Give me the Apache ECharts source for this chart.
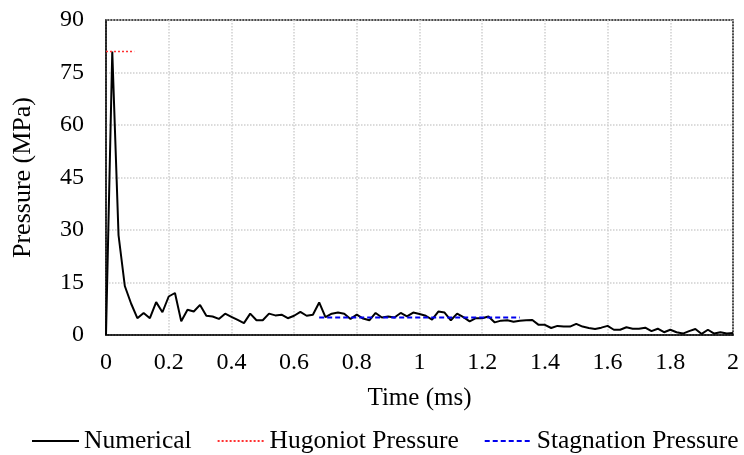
<!DOCTYPE html>
<html>
<head>
<meta charset="utf-8">
<script src="https://cdn.jsdelivr.net/npm/echarts@6/dist/echarts.min.js"></script>
<style>
    html, body { margin: 0; padding: 0; background: #fff; }
    #chart { width: 744px; height: 455px; }
</style>
</head>
<body>
<div id="chart"></div>
<script>
// time (ms)
var timeMs = [
    0, 0.02, 0.04, 0.06, 0.08, 0.1, 0.12, 0.14, 0.16, 0.18,
    0.2, 0.22, 0.24, 0.26, 0.28, 0.3, 0.32, 0.34, 0.36, 0.38,
    0.4, 0.42, 0.44, 0.46, 0.48, 0.5, 0.52, 0.54, 0.56, 0.58,
    0.6, 0.62, 0.64, 0.66, 0.68, 0.7, 0.72, 0.74, 0.76, 0.78,
    0.8, 0.82, 0.84, 0.86, 0.88, 0.9, 0.92, 0.94, 0.96, 0.98,
    1, 1.02, 1.04, 1.06, 1.08, 1.1, 1.12, 1.14, 1.16, 1.18,
    1.2, 1.22, 1.24, 1.26, 1.28, 1.3, 1.32, 1.34, 1.36, 1.38,
    1.4, 1.42, 1.44, 1.46, 1.48, 1.5, 1.52, 1.54, 1.56, 1.58,
    1.6, 1.62, 1.64, 1.66, 1.68, 1.7, 1.72, 1.74, 1.76, 1.78,
    1.8, 1.82, 1.84, 1.86, 1.88, 1.9, 1.92, 1.94, 1.96, 1.98,
    2
];
// numerical pressure (MPa)
var numerical = [
    0, 81, 28.5, 14, 9, 4.8, 6.3, 4.8, 9.4, 6.5,
    11, 12, 3.9, 7.2, 6.7, 8.6, 5.5, 5.3, 4.6, 6.1,
    5.2, 4.3, 3.4, 6.1, 4.2, 4.2, 6.1, 5.6, 5.8, 4.8,
    5.5, 6.6, 5.5, 5.8, 9.3, 5.1, 6.1, 6.4, 6.1, 4.6,
    5.8, 4.7, 4.2, 6.3, 5, 5.3, 5, 6.3, 5.3, 6.4,
    6, 5.5, 4.4, 6.7, 6.4, 4.2, 6.1, 5.1, 3.9, 4.8,
    4.8, 5.3, 3.6, 4.1, 4.2, 3.8, 4.1, 4.2, 4.3, 2.9,
    2.9, 2, 2.6, 2.4, 2.4, 3.2, 2.4, 2, 1.7, 2.1,
    2.6, 1.5, 1.5, 2.2, 1.8, 1.8, 2.1, 1.1, 1.8, 0.8,
    1.5, 0.8, 0.4, 1.1, 1.7, 0.3, 1.5, 0.4, 0.8, 0.4,
    0.6
];
// reference levels
var hugoniotTime = [0, 0.09];
var hugoniotPressure = [81, 81];
var stagnationTime = [0.68, 1.32];
var stagnationPressure = [5, 5];

function pairs(xs, ys) {
    var out = [];
    for (var i = 0; i < xs.length; i++) {
        out.push([xs[i], ys[i]]);
    }
    return out;
}

var font = "'Liberation Serif', 'Times New Roman', serif";
var chart = echarts.init(document.getElementById("chart"));
var option = {
    animation: false,
    textStyle: {fontFamily: font, color: "#000"},
    grid: {
        left: 106, right: 11, top: 20, bottom: 120,
        show: true, borderColor: "#111", borderWidth: 1.5
    },
    legend: {
        left: 31, top: 428, padding: 0,
        itemWidth: 47, itemHeight: 12, itemGap: 25,
        itemStyle: {opacity: 0},
        textStyle: {fontFamily: font, fontSize: 25.5, color: "#000"},
        data: ["Numerical", "Hugoniot Pressure", "Stagnation Pressure"]
    },
    xAxis: {
        type: "value", min: 0, max: 2, interval: 0.2,
        name: "Time (ms)", nameLocation: "middle", nameGap: 51,
        nameTextStyle: {fontFamily: font, fontSize: 25, color: "#000"},
        axisLine: {show: true, lineStyle: {color: "#111", width: 1.5}},
        axisTick: {show: false},
        axisLabel: {fontFamily: font, fontSize: 24, color: "#000", margin: 16},
        splitLine: {show: true, lineStyle: {type: "dotted", color: "#cfcfcf", width: 1.5}}
    },
    yAxis: {
        type: "value", min: 0, max: 90, interval: 15,
        name: "Pressure (MPa)", nameLocation: "middle", nameGap: 70,
        nameTextStyle: {fontFamily: font, fontSize: 26, color: "#000"},
        axisLine: {show: true, lineStyle: {color: "#111", width: 1.5}},
        axisTick: {show: false},
        axisLabel: {fontFamily: font, fontSize: 24, color: "#000", margin: 22},
        splitLine: {show: true, lineStyle: {type: "dotted", color: "#cfcfcf", width: 1.5}}
    },
    series: [
        {
            name: "Numerical", type: "line", showSymbol: false, symbol: "none",
            lineStyle: {color: "#000", width: 2}, itemStyle: {color: "#000"},
            data: pairs(timeMs, numerical)
        },
        {
            name: "Hugoniot Pressure", type: "line", showSymbol: false, symbol: "none",
            lineStyle: {color: "#ff3030", width: 1.5, type: [2, 2]}, itemStyle: {color: "#ff3030"},
            data: pairs(hugoniotTime, hugoniotPressure)
        },
        {
            name: "Stagnation Pressure", type: "line", showSymbol: false, symbol: "none",
            lineStyle: {color: "#0000ee", width: 2, type: [5, 3]}, itemStyle: {color: "#0000ee"},
            data: pairs(stagnationTime, stagnationPressure)
        }
    ]
};
chart.setOption(option);
</script>
</body>
</html>
